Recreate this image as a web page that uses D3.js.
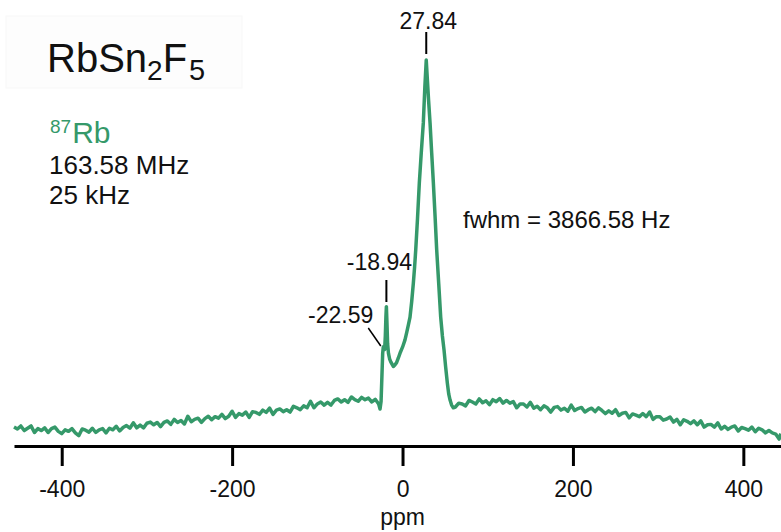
<!DOCTYPE html>
<html>
<head>
<meta charset="utf-8">
<script src="https://cdn.jsdelivr.net/npm/d3@7"></script>
<style>
  html, body { margin: 0; padding: 0; background: #fff; }
  svg { display: block; }
  text { font-family: "Liberation Sans", Arial, Helvetica, sans-serif; fill: #111; }
</style>
</head>
<body>
<svg id="chart" width="781" height="532"></svg>
<script>
// 87Rb MAS NMR spectrum of RbSn2F5 — chemical shift (ppm) and relative intensity (%)
const shiftPpm = [
  -456,-452,-448,-444,-440,-436,-432,-428,-424,-420,-416,-412,-408,-404,-400,-396,-392,-388,-384,-380,
  -376,-372,-368,-364,-360,-356,-352,-348,-344,-340,-336,-332,-328,-324,-320,-316,-312,-308,-304,-300,
  -296,-292,-288,-284,-280,-276,-272,-268,-264,-260,-256,-252,-248,-244,-240,-236,-232,-228,-224,-220,
  -216,-212,-208,-204,-200,-196,-192,-188,-184,-180,-176,-172,-168,-164,-160,-156,-152,-148,-144,-140,
  -136,-132,-128,-124,-120,-116,-112,-108,-104,-100,-96,-92,-88,-84,-80,-76,-72,-68,-64,-60,
  -56,-52,-48,-44,-40,-36,-32,-28,
  -26.4,-25.2,-24.2,-23.3,-22.59,-21.8,-21.0,-20.2,-19.5,-18.94,-18.3,-17.5,-16.5,-15.2,-13.8,-12.3,-10.8,
  -9.0,-7.0,-4.9,-2.5,0.0,2.9,5.0,7.0,8.8,10.8,12.7,14.2,15.5,17.6,19.7,22.0,24.4,26.2,27.84,
  29.0,30.6,32.3,34.2,36.2,38.2,40.1,42.5,44.8,46.8,48.7,50.6,52.6,54.2,55.8,57.6,59.6,
  62,66,70,74,78,82,86,90,94,98,102,106,110,114,118,122,126,130,134,138,
  142,146,150,154,158,162,166,170,174,178,182,186,190,194,198,202,206,210,214,218,
  222,226,230,234,238,242,246,250,254,258,262,266,270,274,278,282,286,290,294,298,
  302,306,310,314,318,322,326,330,334,338,342,346,350,354,358,362,366,370,374,378,
  382,386,390,394,398,402,406,410,414,418,422,426,430,434,438,442,444
];
const intensity = [
  4.9,4.4,5.2,4.0,4.6,5.2,3.5,4.5,4.0,4.7,3.5,4.5,4.9,3.8,3.2,4.2,3.8,4.5,3.4,2.7,
  4.4,4.1,3.6,4.6,3.5,4.2,4.5,3.4,4.6,4.2,5.1,3.9,4.8,5.3,4.6,6.0,4.7,5.4,4.7,5.9,
  6.2,5.5,6.1,5.0,6.1,6.5,5.6,6.9,6.1,6.6,5.7,7.7,6.3,6.9,7.2,6.1,7.1,7.7,6.8,7.6,
  7.2,8.2,7.1,7.7,9.0,7.4,8.4,8.0,8.8,7.4,8.9,8.7,8.2,9.3,8.7,9.8,8.2,9.3,9.6,8.9,
  9.4,8.8,10.3,9.9,9.4,10.4,9.9,11.6,9.9,10.9,11.4,10.6,11.3,10.6,11.8,12.2,11.4,12.0,11.3,12.7,
  12.0,11.6,12.6,12.0,12.4,11.4,12.1,10.9,
  9.6,11.5,18.0,24.0,25.7,25.2,25.0,28.5,33.5,36.1,32.0,26.5,24.0,22.6,21.8,21.2,20.6,
  21.0,21.6,22.8,24.3,25.6,27.5,29.5,31.5,33.4,37.5,42.2,46.5,50.8,59.0,68.1,76.0,83.7,93.0,100,
  95.5,89.5,83.7,76.0,68.1,59.5,50.8,42.0,33.4,28.5,24.9,20.5,16.3,13.5,11.9,10.6,9.9,
  10.1,11.1,10.9,10.4,11.8,11.4,10.9,12.2,11.2,11.7,10.7,12.0,11.5,12.3,11.1,11.8,11.1,11.5,9.9,10.9,
  10.9,10.1,11.3,9.8,10.3,9.4,10.4,9.9,8.8,10.0,10.2,9.3,9.8,9.0,10.6,9.2,9.7,10.0,8.8,9.4,
  9.8,8.9,9.9,9.2,8.4,9.1,8.5,9.4,7.9,8.5,8.7,7.3,8.3,8.0,7.6,8.4,7.6,8.8,6.9,7.6,
  7.6,6.7,7.0,7.5,6.2,6.9,5.5,6.8,6.4,5.8,6.5,5.5,6.5,4.9,5.5,5.6,4.9,6.0,4.4,5.1,
  4.3,4.9,5.2,3.9,4.8,4.5,4.1,4.9,3.7,4.6,4.2,3.4,4.0,3.4,3.1,1.8,3.2
];

// Annotated peak positions (ppm)
const peakShifts = [27.84, -18.94, -22.59];
const peakLabels = ["27.84", "-18.94", "-22.59"];

const xTicks = [-400, -200, 0, 200, 400];
const xTickLabels = ["-400", "-200", "0", "200", "400"];
const xTitle = "ppm";

const compound = { base1: "RbSn", sub1: "2", base2: "F", sub2: "5" };
const nucleus = { mass: "87", symbol: "Rb" };
const conditions = ["163.58 MHz", "25 kHz"];
const fwhmText = "fwhm = 3866.58 Hz";

const green = "#35996a";

const svg = d3.select("#chart");
const axisY = 446;

const x = d3.scaleLinear().domain([-456, 444.2]).range([14, 781]);
const y = d3.scaleLinear().domain([0, 100]).range([axisY, 60]);

const points = shiftPpm.map((p, i) => [p, intensity[i]]);

// faint panel behind the title
svg.append("rect")
  .attr("x", 6).attr("y", 16).attr("width", 236).attr("height", 72)
  .attr("fill", "#fdfdfd").attr("stroke", "#f7f7f7");

// spectrum trace
svg.append("path")
  .datum(points)
  .attr("fill", "none")
  .attr("stroke", green)
  .attr("stroke-width", 3.5)
  .attr("stroke-linejoin", "round")
  .attr("stroke-linecap", "butt")
  .attr("d", d3.line().x(d => x(d[0])).y(d => y(d[1])));

// x axis
const axis = svg.append("g")
  .attr("transform", `translate(0,${axisY})`)
  .call(d3.axisBottom(x).tickValues(xTicks).tickSize(20).tickSizeOuter(0)
    .tickFormat((d, i) => xTickLabels[i]));
axis.select(".domain").attr("stroke", "#000").attr("stroke-width", 3);
axis.selectAll(".tick line").attr("stroke", "#000").attr("stroke-width", 3);
axis.selectAll(".tick text")
  .attr("y", 51).attr("dy", 0)
  .attr("font-size", 23)
  .attr("font-family", "Liberation Sans, Arial, sans-serif")
  .attr("fill", "#111");

svg.append("text")
  .attr("x", x(0)).attr("y", 525)
  .attr("text-anchor", "middle")
  .attr("font-size", 23)
  .text(xTitle);

// peak annotations
const px0 = x(peakShifts[0]);
svg.append("text").attr("x", px0 + 2).attr("y", 29)
  .attr("text-anchor", "middle").attr("font-size", 23).text(peakLabels[0]);
svg.append("line").attr("x1", px0).attr("x2", px0).attr("y1", 32).attr("y2", 54)
  .attr("stroke", "#000").attr("stroke-width", 2);

const px1 = x(peakShifts[1]);
svg.append("text").attr("x", px1 - 7).attr("y", 270)
  .attr("text-anchor", "middle").attr("font-size", 23).text(peakLabels[1]);
svg.append("line").attr("x1", px1).attr("x2", px1).attr("y1", 280).attr("y2", 302)
  .attr("stroke", "#000").attr("stroke-width", 2);

const px2 = x(peakShifts[2]);
svg.append("text").attr("x", px2 - 10).attr("y", 323)
  .attr("text-anchor", "end").attr("font-size", 23).text(peakLabels[2]);
svg.append("line").attr("x1", px2 - 15).attr("y1", 328).attr("x2", px2 - 2.5).attr("y2", 346)
  .attr("stroke", "#000").attr("stroke-width", 1.5);

// fwhm note
svg.append("text").attr("x", 463).attr("y", 228)
  .attr("font-size", 24).text(fwhmText);

// compound title
const title = svg.append("text").attr("x", 47).attr("y", 72).attr("font-size", 40);
title.append("tspan").text(compound.base1);
title.append("tspan").attr("font-size", 28).attr("dy", 8).text(compound.sub1);
title.append("tspan").attr("dy", -8).text(compound.base2);
title.append("tspan").attr("font-size", 29).attr("dy", 8).attr("dx", 2).text(compound.sub2);

// nucleus and acquisition details
const nuc = svg.append("text").attr("x", 50).attr("y", 143).style("fill", green);
nuc.append("tspan").attr("font-size", 19).attr("dy", -10).text(nucleus.mass);
nuc.append("tspan").attr("font-size", 30).attr("dy", 10).attr("dx", 1).text(nucleus.symbol);

svg.selectAll("text.cond")
  .data(conditions)
  .join("text")
  .attr("class", "cond")
  .attr("x", 49)
  .attr("y", (d, i) => 174 + i * 29.5)
  .attr("font-size", 26)
  .text(d => d);
</script>
</body>
</html>
